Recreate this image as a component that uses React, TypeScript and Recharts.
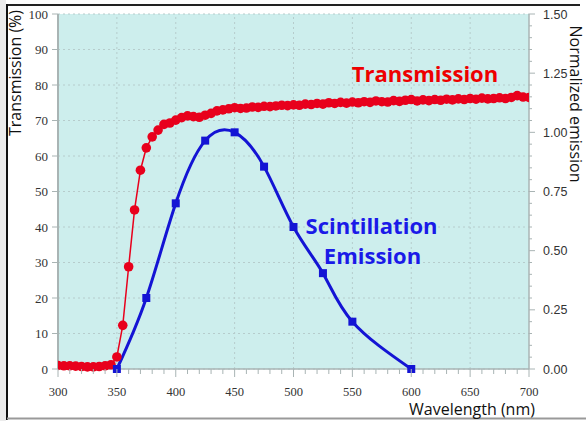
import React from 'react';
import { ComposedChart, Line, XAxis, YAxis, CartesianGrid, ReferenceLine } from 'recharts';

const transWavelengths = [
  300, 305, 310, 315, 320, 325, 330, 335, 340, 345,
  350, 355, 360, 365, 370, 375, 380, 385, 390, 395,
  400, 405, 410, 415, 420, 425, 430, 435, 440, 445,
  450, 455, 460, 465, 470, 475, 480, 485, 490, 495,
  500, 505, 510, 515, 520, 525, 530, 535, 540, 545,
  550, 555, 560, 565, 570, 575, 580, 585, 590, 595,
  600, 605, 610, 615, 620, 625, 630, 635, 640, 645,
  650, 655, 660, 665, 670, 675, 680, 685, 690, 695, 700,
];
const transValues = [
  1.0, 0.9, 0.9, 0.8, 0.7, 0.6, 0.6, 0.7, 0.9, 1.2,
  3.4, 12.3, 28.8, 44.8, 56.0, 62.3, 65.4, 67.3, 68.9, 69.3,
  70.1, 70.8, 71.3, 71.1, 70.9, 71.5, 72.0, 72.7, 73.0, 73.3,
  73.6, 73.4, 73.5, 73.8, 73.7, 74.0, 73.9, 74.1, 74.3, 74.2,
  74.4, 74.3, 74.6, 74.5, 74.8, 74.6, 75.0, 74.8, 75.1, 74.9,
  75.2, 75.0, 75.3, 75.1, 75.5, 75.3, 75.2, 75.6, 75.4, 75.7,
  75.9, 75.5, 75.8, 75.6, 75.9, 75.7, 76.0, 75.8, 76.1, 75.9,
  76.2, 76.0, 76.3, 76.1, 76.2, 76.4, 76.2, 76.5, 77.0, 76.6, 76.5,
];
const emissionWavelengths = [350, 375, 400, 425, 450, 475, 500, 525, 550, 600];
const emissionValues = [0, 0.3, 0.7, 0.965, 1.0, 0.855, 0.6, 0.405, 0.2, 0];

const xTicks = [
  300, 310, 320, 330, 340, 350, 360, 370, 380, 390, 400, 410, 420, 430, 440,
  450, 460, 470, 480, 490, 500, 510, 520, 530, 540, 550, 560, 570, 580, 590,
  600, 610, 620, 630, 640, 650, 660, 670, 680, 690, 700,
];
const xGridTicks = [350, 400, 450, 500, 550, 600, 650];
const leftTicks = [0, 10, 20, 30, 40, 50, 60, 70, 80, 90, 100];
const rightTicks = [
  0, 0.05, 0.1, 0.15, 0.2, 0.25, 0.3, 0.35, 0.4, 0.45, 0.5, 0.55, 0.6, 0.65,
  0.7, 0.75, 0.8, 0.85, 0.9, 0.95, 1.0, 1.05, 1.1, 1.15, 1.2, 1.25, 1.3, 1.35,
  1.4, 1.45, 1.5,
];

const transData = transWavelengths.map((wl, i) => ({ wl, t: transValues[i] }));
const emisData = emissionWavelengths.map((wl, i) => ({ wl, e: emissionValues[i] }));

const RED = '#e8001c';
const BLUE = '#1414d4';
const AXIS = '#a9b4b4';
const SERIF = "'Liberation Serif', 'DejaVu Serif', serif";
const SANS = "'Liberation Sans', Arial, sans-serif";
const MYRIAD = "'Open Sans', 'Noto Sans', sans-serif";

const XTick = (props: any) => {
  const { x, y, payload } = props;
  const v = payload.value;
  const major = v % 50 === 0;
  return (
    <g>
      <line x1={x} x2={x} y1={y} y2={y + (major ? 8 : 5)} stroke={AXIS} strokeWidth={1} />
      {major && (
        <text x={x} y={y + 27} textAnchor="middle" style={{ fontFamily: SERIF, fontSize: 12.5, fill: '#333' }}>
          {v}
        </text>
      )}
    </g>
  );
};

const LTick = (props: any) => {
  const { x, y, payload } = props;
  return (
    <g>
      <line x1={x} x2={x + 6} y1={y} y2={y} stroke={AXIS} strokeWidth={1} />
      <text x={x - 4} y={y + 4.5} textAnchor="end" style={{ fontFamily: SERIF, fontSize: 13, fill: '#333' }}>
        {payload.value}
      </text>
    </g>
  );
};

const RTick = (props: any) => {
  const { x, y, payload } = props;
  const v = payload.value;
  const major = Math.round(v * 100) % 25 === 0;
  return (
    <g>
      <line x1={x} x2={x + (major ? 6 : 3)} y1={y} y2={y} stroke={AXIS} strokeWidth={1} />
      {major && (
        <text x={x + 14} y={y + 4.5} textAnchor="start" style={{ fontFamily: SANS, fontSize: 12.5, fill: '#333' }}>
          {v.toFixed(2)}
        </text>
      )}
    </g>
  );
};

const SquareDot = (props: any) => {
  const { cx, cy, index } = props;
  if (cx == null || cy == null) return <g key={`s${index}`} />;
  return <rect key={`s${index}`} x={cx - 4} y={cy - 4} width={8} height={8} fill={BLUE} />;
};

export default function App() {
  return (
    <div style={{ position: 'absolute', left: 0, top: 0, width: 586, height: 421, background: '#ffffff', overflow: 'hidden' }}>
      <ComposedChart width={586} height={421} margin={{ top: 14, right: 10, bottom: 22, left: 10 }}>
        <CartesianGrid yAxisId="left" vertical={false} fill="#cdeeed" stroke="#b6cccc" strokeDasharray="2 3" />
        {xGridTicks.map((v) => (
          <ReferenceLine key={v} x={v} yAxisId="left" stroke="#b6cccc" strokeDasharray="2 3" />
        ))}
        <XAxis
          type="number"
          dataKey="wl"
          domain={[300, 700]}
          ticks={xTicks}
          interval={0}
          allowDataOverflow
          height={30}
          tickSize={0}
          tickMargin={0}
          tickLine={false}
          axisLine={{ stroke: AXIS, strokeWidth: 1.5 }}
          tick={<XTick />}
        />
        <YAxis
          yAxisId="left"
          type="number"
          domain={[0, 100]}
          ticks={leftTicks}
          interval={0}
          width={48}
          tickSize={6}
          tickMargin={0}
          tickLine={false}
          axisLine={{ stroke: AXIS, strokeWidth: 2 }}
          tick={<LTick />}
        />
        <YAxis
          yAxisId="right"
          orientation="right"
          type="number"
          domain={[0, 1.5]}
          ticks={rightTicks}
          interval={0}
          width={47}
          tickSize={0}
          tickMargin={0}
          tickLine={false}
          axisLine={{ stroke: AXIS, strokeWidth: 1.5 }}
          tick={<RTick />}
        />
        <Line
          yAxisId="left"
          data={transData}
          dataKey="t"
          type="linear"
          stroke={RED}
          strokeWidth={1.5}
          dot={{ r: 4.8, fill: RED, stroke: 'none' }}
          isAnimationActive={false}
        />
        <Line
          yAxisId="right"
          data={emisData}
          dataKey="e"
          type="natural"
          stroke={BLUE}
          strokeWidth={3}
          dot={SquareDot}
          isAnimationActive={false}
        />
      </ComposedChart>
      <svg width={586} height={421} style={{ position: 'absolute', left: 0, top: 0, pointerEvents: 'none' }}>
        <rect x={0} y={0} width={6} height={421} fill="#ececec" />
        <line x1={7} y1={5} x2={580} y2={5} stroke="#222" strokeWidth={2} />
        <line x1={7} y1={4} x2={7} y2={420} stroke="#111" strokeWidth={2} />
        <line x1={7} y1={418.5} x2={586} y2={418.5} stroke="#999" strokeWidth={2} />
        <text x={21} y={73} transform="rotate(-90 21 73)" textAnchor="middle" style={{ fontFamily: MYRIAD, fontSize: 16, fill: '#111' }}>
          Transmission (%)
        </text>
        <text x={570} y={104} transform="rotate(90 570 104)" textAnchor="middle" style={{ fontFamily: MYRIAD, fontSize: 16, fill: '#111' }}>
          Normalized emission
        </text>
        <text x={472} y={415} textAnchor="middle" style={{ fontFamily: MYRIAD, fontSize: 16, fill: '#111' }}>
          Wavelength (nm)
        </text>
        <text x={425} y={82} textAnchor="middle" style={{ fontFamily: MYRIAD, fontWeight: 700, fontSize: 22, fill: '#ee0000' }}>
          Transmission
        </text>
        <text x={371.5} y={234} textAnchor="middle" style={{ fontFamily: MYRIAD, fontWeight: 700, fontSize: 22, fill: '#1a1ae8' }}>
          Scintillation
        </text>
        <text x={372.5} y={264} textAnchor="middle" style={{ fontFamily: MYRIAD, fontWeight: 700, fontSize: 22, fill: '#1a1ae8' }}>
          Emission
        </text>
      </svg>
    </div>
  );
}
